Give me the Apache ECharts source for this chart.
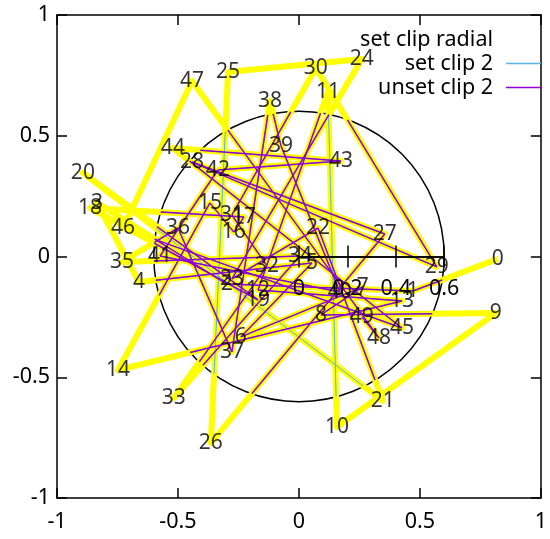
<!DOCTYPE html>
<html><head><meta charset="utf-8">
<script src="https://cdn.jsdelivr.net/npm/echarts@6/dist/echarts.min.js"></script>
<style>html,body{margin:0;padding:0;background:#fff}#c{width:550px;height:539px}</style>
</head><body><div id="c"></div>
<script>
// point coordinates (index = label)
const xs = [0.822, 0.471, -0.298, -0.835, -0.661, 0.054, -0.240, 0.264, 0.091, 0.814,
            0.157, 0.120, -0.169, 0.426, -0.748, -0.368, -0.269, -0.227, -0.864, -0.169,
            -0.893, 0.347, 0.079, -0.277, 0.260, -0.293, -0.364, 0.355, -0.442, 0.570,
            0.070, -0.277, -0.132, -0.517, 0.004, -0.731, -0.500, -0.277, -0.120, -0.074,
            0.169, -0.574, -0.335, 0.174, -0.521, 0.426, -0.727, -0.442, 0.331, 0.260];
const ys = [-0.010, -0.143, -0.114, 0.222, -0.106, -0.027, -0.333, -0.126, -0.242, -0.234,
            -0.706, 0.681, -0.139, -0.184, -0.470, 0.222, 0.101, 0.164, 0.201, -0.180,
            0.346, -0.598, 0.118, -0.093, 0.818, 0.764, -0.772, 0.093, 0.391, -0.043,
            0.781, 0.172, -0.039, -0.586, 0.002, -0.023, 0.118, -0.395, 0.644, 0.458,
            -0.147, 0.002, 0.358, 0.395, 0.449, -0.296, 0.118, 0.727, -0.337, -0.251];
const rMax = 0.6;
const rStep = 0.2;
const axisMin = -1, axisMax = 1, axisStep = 0.5;
const titleText = 'set clip radial';
const seriesNames = ['set clip 2', 'unset clip 2'];

const W = 550, H = 539, GL = 57, GR = 9, GT = 15, GB = 41;
const pw = W - GL - GR, ph = H - GT - GB;
const cx = GL + pw / 2, cy = GT + ph / 2;
const R = rMax * pw / (axisMax - axisMin);
const FONT = 'Noto Sans';
const FS = 21.5, LFS = 21;
const YEL = '#ffff00', CYAN = '#56b4e9', PURP = '#9400d3';

const pts = xs.map((x, i) => [x, ys[i]]);
function inside(p) { return p[0]*p[0] + p[1]*p[1] <= rMax*rMax; }
function clipSeg(p, q, r) {
  const dx = q[0]-p[0], dy = q[1]-p[1];
  const a = dx*dx+dy*dy, b = 2*(p[0]*dx+p[1]*dy), c = p[0]*p[0]+p[1]*p[1]-r*r;
  const disc = b*b-4*a*c;
  if (disc <= 0) return null;
  const s = Math.sqrt(disc);
  let t0 = Math.max(0, (-b-s)/(2*a)), t1 = Math.min(1, (-b+s)/(2*a));
  if (t0 >= t1) return null;
  return [[p[0]+t0*dx, p[1]+t0*dy], [p[0]+t1*dx, p[1]+t1*dy]];
}
const cyanSegs = [], purpSegs = [];
for (let i = 0; i < pts.length - 1; i++) {
  const seg = clipSeg(pts[i], pts[i+1], rMax);
  if (!seg) continue;
  cyanSegs.push({coords: seg});
  if (inside(pts[i]) || inside(pts[i+1])) purpSegs.push({coords: seg});
}

const chart = echarts.init(document.getElementById('c'), null, {renderer: 'canvas'});
const blk = {color: '#000', width: 1.5};
const axCommon = {
  type: 'value', min: axisMin, max: axisMax, interval: axisStep, gridIndex: 0,
  axisLine: {show: true, onZero: false, lineStyle: blk},
  axisTick: {show: true, inside: true, length: 10, lineStyle: blk},
  splitLine: {show: false},
  axisLabel: {show: true, color: '#000', fontFamily: FONT, fontSize: FS}
};
const rAxis = {
  type: 'value', min: 0, max: rMax, interval: rStep, z: 10,
  axisLine: {show: true, onZero: false, lineStyle: blk},
  splitLine: {show: false}
};
const hiddenY = {type: 'value', min: 0, max: 1, show: false, splitLine: {show: false}};
chart.setOption({
  animation: false,
  backgroundColor: '#fff',
  grid: [
    {left: GL, right: GR, top: GT, bottom: GB},
    {left: cx, width: R, top: cy - 10, height: 10},
    {left: cx, width: R, top: cy - 10, height: 10}
  ],
  xAxis: [
    Object.assign({}, axCommon, {position: 'bottom', axisLabel: Object.assign({}, axCommon.axisLabel, {margin: 13})}),
    Object.assign({}, axCommon, {position: 'top', axisLabel: {show: false}}),
    Object.assign({}, rAxis, {gridIndex: 1, position: 'bottom',
      axisTick: {show: true, inside: false, length: 11, lineStyle: blk},
      axisLabel: {show: true, margin: 21, color: '#000', fontFamily: FONT, fontSize: FS,
                  showMinLabel: true, showMaxLabel: true}}),
    Object.assign({}, rAxis, {gridIndex: 2, position: 'bottom',
      axisTick: {show: true, inside: true, length: 11, lineStyle: blk},
      axisLabel: {show: false}})
  ],
  yAxis: [
    Object.assign({}, axCommon, {position: 'left', axisLabel: Object.assign({}, axCommon.axisLabel, {margin: 7})}),
    Object.assign({}, axCommon, {position: 'right', axisLabel: {show: false}}),
    Object.assign({}, hiddenY, {gridIndex: 1}),
    Object.assign({}, hiddenY, {gridIndex: 2})
  ],
  polar: {center: [cx, cy], radius: R},
  angleAxis: {type: 'value', min: 0, max: 360, startAngle: 0, z: 0,
     axisLine: {show: true, lineStyle: {color: '#000', width: 1.5}},
     axisTick: {show: false}, axisLabel: {show: false}, splitLine: {show: false}},
  radiusAxis: {type: 'value', min: 0, max: rMax, show: false,
     axisLine: {show: false}, axisTick: {show: false}, axisLabel: {show: false}, splitLine: {show: false}},
  series: [
    {type: 'line', xAxisIndex: 0, yAxisIndex: 0, data: pts, symbol: 'none', z: 1,
     lineStyle: {color: YEL, width: 6, join: 'round'}},
    {type: 'lines', coordinateSystem: 'cartesian2d', xAxisIndex: 0, yAxisIndex: 0, name: seriesNames[0], data: cyanSegs, z: 2,
     lineStyle: {color: CYAN, width: 1, opacity: 1}},
    {type: 'lines', coordinateSystem: 'cartesian2d', xAxisIndex: 0, yAxisIndex: 0, name: seriesNames[1], data: purpSegs, z: 3,
     lineStyle: {color: PURP, width: 1.5, opacity: 1}},
    {type: 'scatter', xAxisIndex: 0, yAxisIndex: 0, data: pts, symbolSize: 0, z: 5,
     label: {show: true, position: 'inside', formatter: p => String(p.dataIndex),
             color: '#000', fontFamily: FONT, fontSize: LFS}}
  ],
  graphic: [
    {type: 'text', x: 493, y: 40, z: 20,
     style: {text: titleText, font: FS + 'px "' + FONT + '"', fill: '#000', align: 'right', verticalAlign: 'middle'}},
    {type: 'text', x: 493, y: 64, z: 20,
     style: {text: seriesNames[0], font: FS + 'px "' + FONT + '"', fill: '#000', align: 'right', verticalAlign: 'middle'}},
    {type: 'text', x: 493, y: 88, z: 20,
     style: {text: seriesNames[1], font: FS + 'px "' + FONT + '"', fill: '#000', align: 'right', verticalAlign: 'middle'}},
    {type: 'line', z: 20, shape: {x1: 506, y1: 63.5, x2: 541, y2: 63.5}, style: {stroke: CYAN, lineWidth: 1.5}},
    {type: 'line', z: 20, shape: {x1: 506, y1: 87.5, x2: 541, y2: 87.5}, style: {stroke: PURP, lineWidth: 1.5}}
  ]
});
</script></body></html>
